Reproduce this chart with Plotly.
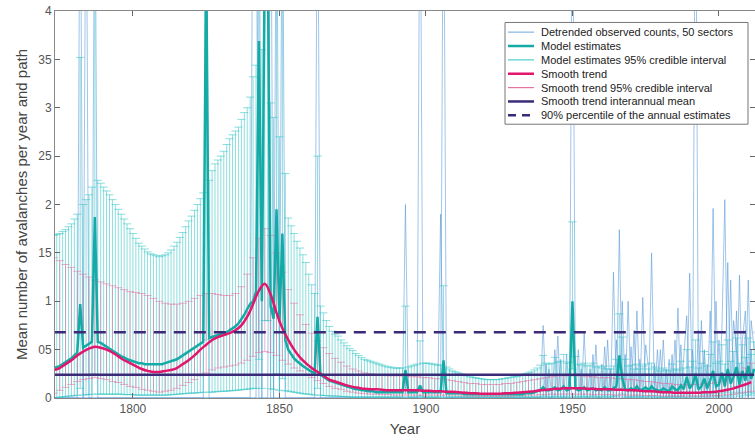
import plotly.graph_objects as go

# ---------------- data ----------------
years = list(range(1773, 2013))

# model estimates (yearly, 1773..2012)
est = [
    0.31, 0.32, 0.33, 0.35, 0.37, 0.39, 0.41,
    0.44, 0.47, 0.97, 0.52, 0.54, 0.56, 0.58, 1.87, 0.58, 0.57,
    0.55, 0.53, 0.51, 0.49, 0.47, 0.45, 0.43, 0.42, 0.40, 0.39,
    0.38, 0.37, 0.36, 0.36, 0.35, 0.35, 0.35, 0.35, 0.35, 0.35,
    0.35, 0.36, 0.37, 0.38, 0.39, 0.40, 0.42, 0.44, 0.46, 0.48,
    0.50, 0.52, 0.54, 0.56, 0.58, 4.60, 0.62, 0.63, 0.64, 0.65,
    0.66, 0.67, 0.68, 0.70, 0.72, 0.74, 0.77, 0.81, 0.86, 0.92,
    0.97, 1.00, 1.10, 3.69, 1.00, 4.60, 4.60, 0.95, 0.82, 1.95,
    0.78, 1.70, 0.60, 0.50, 0.45, 0.41, 0.38, 0.35, 0.33, 0.31,
    0.29, 0.27, 0.26, 0.84, 0.24, 0.22, 0.20, 0.18, 0.17, 0.16,
    0.15, 0.14, 0.13, 0.12, 0.11, 0.10, 0.09, 0.09, 0.08, 0.08,
    0.07, 0.07, 0.07, 0.06, 0.06, 0.06, 0.06, 0.06, 0.06, 0.06,
    0.06, 0.06, 0.06, 0.29, 0.06, 0.06, 0.06, 0.06, 0.13, 0.06,
    0.06, 0.06, 0.06, 0.06, 0.06, 0.06, 0.39, 0.05, 0.05, 0.05,
    0.05, 0.05, 0.05, 0.04, 0.04, 0.04, 0.04, 0.04, 0.04, 0.04,
    0.04, 0.04, 0.04, 0.04, 0.04, 0.04, 0.04, 0.04, 0.04, 0.04,
    0.04, 0.04, 0.04, 0.04, 0.05, 0.05, 0.05, 0.06, 0.07, 0.08,
    0.11, 0.08, 0.08, 0.09, 0.11, 0.08, 0.09, 0.12, 0.08, 0.09,
    1.00, 0.10, 0.08, 0.09, 0.11, 0.08, 0.09, 0.10, 0.08, 0.09,
    0.08, 0.11, 0.08, 0.08, 0.10, 0.12, 0.44, 0.20, 0.09, 0.08,
    0.10, 0.08, 0.12, 0.08, 0.09, 0.11, 0.08, 0.12, 0.09, 0.08,
    0.07, 0.10, 0.08, 0.07, 0.12, 0.09, 0.08, 0.13, 0.09, 0.22,
    0.10, 0.14, 0.25, 0.09, 0.12, 0.20, 0.10, 0.18, 0.28, 0.12,
    0.14, 0.26, 0.12, 0.30, 0.15, 0.22, 0.32, 0.14, 0.28, 0.18,
    0.33, 0.20, 0.30,
]

# model estimates 95% credible interval, upper bound (yearly)
est_hi = [
    1.68, 1.69, 1.70, 1.72, 1.74, 1.77, 1.80,
    1.85, 1.90, 3.52, 2.00, 2.05, 2.10, 2.18, 4.50, 2.25, 2.22,
    2.18, 2.14, 2.10, 2.05, 2.00, 1.95, 1.90, 1.85, 1.80, 1.75,
    1.70, 1.65, 1.60, 1.57, 1.54, 1.51, 1.49, 1.48, 1.47, 1.46,
    1.47, 1.48, 1.50, 1.53, 1.57, 1.61, 1.66, 1.71, 1.77, 1.83,
    1.88, 1.94, 2.00, 2.06, 2.12, 4.60, 2.25, 2.35, 2.42, 2.46,
    2.50, 2.55, 2.62, 2.68, 2.72, 2.76, 2.80, 2.88, 2.95, 3.00,
    3.11, 3.32, 3.44, 4.50, 3.60, 4.60, 4.60, 3.05, 2.90, 4.50,
    2.70, 4.50, 2.32, 1.86, 1.78, 1.70, 1.62, 1.55, 1.48, 1.40,
    1.28, 1.17, 1.08, 2.50, 0.95, 0.88, 0.80, 0.74, 0.69, 0.66,
    0.64, 0.60, 0.57, 0.54, 0.51, 0.49, 0.46, 0.44, 0.42, 0.40,
    0.39, 0.38, 0.37, 0.36, 0.35, 0.34, 0.33, 0.32, 0.32, 0.31,
    0.31, 0.31, 0.31, 0.95, 0.32, 0.33, 0.34, 0.35, 0.59, 0.36,
    0.36, 0.36, 0.35, 0.35, 0.34, 0.34, 1.16, 0.32, 0.30, 0.28,
    0.27, 0.26, 0.25, 0.24, 0.23, 0.22, 0.21, 0.21, 0.20, 0.20,
    0.19, 0.19, 0.19, 0.19, 0.19, 0.19, 0.20, 0.20, 0.21, 0.21,
    0.22, 0.22, 0.23, 0.24, 0.25, 0.26, 0.27, 0.29, 0.31, 0.34,
    0.44, 0.36, 0.35, 0.36, 0.42, 0.37, 0.38, 0.45, 0.36, 0.37,
    1.82, 0.43, 0.35, 0.34, 0.36, 0.33, 0.34, 0.36, 0.32, 0.33,
    0.31, 0.33, 0.30, 0.30, 0.33, 0.40, 0.87, 0.63, 0.40, 0.33,
    0.34, 0.30, 0.35, 0.30, 0.33, 0.35, 0.30, 0.36, 0.32, 0.30,
    0.28, 0.31, 0.29, 0.28, 0.35, 0.30, 0.29, 0.38, 0.31, 0.50,
    0.32, 0.38, 0.60, 0.31, 0.36, 0.48, 0.33, 0.45, 0.58, 0.36,
    0.38, 0.55, 0.35, 0.60, 0.38, 0.48, 0.62, 0.36, 0.55, 0.42,
    0.62, 0.45, 0.58,
]

# model estimates 95% credible interval, lower bound (yearly)
est_lo = [
    0.00, 0.005, 0.01, 0.01, 0.015, 0.02, 0.02,
    0.025, 0.03, 0.10, 0.03, 0.035, 0.035, 0.04, 0.25, 0.04, 0.04,
    0.04, 0.04, 0.04, 0.04, 0.04, 0.04, 0.04, 0.035, 0.035, 0.035,
    0.035, 0.03, 0.03, 0.03, 0.03, 0.03, 0.03, 0.03, 0.03, 0.03,
    0.03, 0.03, 0.03, 0.035, 0.035, 0.04, 0.04, 0.045, 0.045, 0.05,
    0.05, 0.05, 0.055, 0.055, 0.06, 0.60, 0.06, 0.06, 0.065, 0.065,
    0.07, 0.07, 0.07, 0.075, 0.075, 0.08, 0.08, 0.085, 0.09, 0.09,
    0.095, 0.10, 0.10, 0.40, 0.10, 0.80, 0.80, 0.095, 0.09, 0.25,
    0.08, 0.20, 0.075, 0.07, 0.065, 0.06, 0.055, 0.05, 0.045, 0.04,
    0.04, 0.035, 0.03, 0.10, 0.03, 0.025, 0.025, 0.02, 0.02, 0.02,
    0.02, 0.015, 0.015, 0.015, 0.01, 0.01, 0.01, 0.01, 0.01, 0.01,
    0.01, 0.01, 0.01, 0.01, 0.01, 0.01, 0.01, 0.01, 0.01, 0.01,
    0.01, 0.01, 0.01, 0.05, 0.01, 0.01, 0.01, 0.01, 0.02, 0.01,
    0.01, 0.01, 0.01, 0.01, 0.01, 0.01, 0.07, 0.01, 0.01, 0.01,
    0.01, 0.01, 0.01, 0.01, 0.01, 0.01, 0.01, 0.01, 0.01, 0.01,
    0.01, 0.01, 0.01, 0.01, 0.01, 0.01, 0.01, 0.01, 0.01, 0.01,
    0.01, 0.01, 0.01, 0.01, 0.01, 0.01, 0.01, 0.01, 0.01, 0.01,
    0.02, 0.01, 0.01, 0.01, 0.02, 0.01, 0.01, 0.02, 0.01, 0.01,
    0.30, 0.02, 0.01, 0.01, 0.02, 0.01, 0.01, 0.02, 0.01, 0.01,
    0.01, 0.02, 0.01, 0.01, 0.02, 0.02, 0.10, 0.04, 0.01, 0.01,
    0.01, 0.01, 0.02, 0.01, 0.01, 0.02, 0.01, 0.02, 0.01, 0.01,
    0.01, 0.01, 0.01, 0.01, 0.02, 0.01, 0.01, 0.02, 0.01, 0.04,
    0.01, 0.02, 0.05, 0.01, 0.02, 0.04, 0.01, 0.03, 0.05, 0.02,
    0.02, 0.05, 0.02, 0.06, 0.02, 0.04, 0.06, 0.02, 0.05, 0.03,
    0.06, 0.03, 0.05,
]

# smooth trend and its 95% credible interval (every second year, 1773..2011)
smooth_years = list(range(1773, 2012, 2))
smooth = [
    0.29, 0.31, 0.35, 0.39, 0.44, 0.48, 0.51, 0.53, 0.52, 0.50,
    0.47, 0.43, 0.39, 0.36, 0.33, 0.30, 0.28, 0.27, 0.27, 0.28,
    0.29, 0.31, 0.35, 0.39, 0.44, 0.50, 0.55, 0.60, 0.63, 0.65,
    0.67, 0.70, 0.75, 0.84, 0.97, 1.11, 1.18, 1.07, 0.88, 0.72,
    0.60, 0.50, 0.42, 0.36, 0.31, 0.27, 0.23, 0.19, 0.17, 0.15,
    0.13, 0.115, 0.105, 0.095, 0.09, 0.09, 0.085, 0.08, 0.08, 0.08,
    0.08, 0.08, 0.08, 0.075, 0.075, 0.07, 0.07, 0.065, 0.065, 0.06,
    0.055, 0.05, 0.05, 0.045, 0.045, 0.045, 0.045, 0.05, 0.05, 0.055,
    0.06, 0.065, 0.07, 0.08, 0.085, 0.09, 0.095, 0.10, 0.10, 0.10,
    0.10, 0.095, 0.095, 0.09, 0.09, 0.09, 0.085, 0.085, 0.08, 0.08,
    0.075, 0.07, 0.07, 0.065, 0.06, 0.06, 0.055, 0.055, 0.055, 0.055,
    0.055, 0.06, 0.06, 0.065, 0.075, 0.085, 0.10, 0.12, 0.14, 0.165,
]
smooth_hi = [
    1.45, 1.42, 1.38, 1.35, 1.31, 1.28, 1.25, 1.22, 1.20, 1.18,
    1.16, 1.14, 1.12, 1.10, 1.09, 1.08, 1.06, 1.03, 1.00, 0.98,
    0.97, 0.97, 0.98, 1.00, 1.03, 1.06, 1.08, 1.08, 1.07, 1.06,
    1.06, 1.08, 1.15, 1.28, 1.45, 1.65, 1.75, 1.68, 1.50, 1.30,
    1.12, 0.98, 0.86, 0.76, 0.67, 0.59, 0.52, 0.46, 0.41, 0.37,
    0.33, 0.30, 0.28, 0.26, 0.25, 0.24, 0.24, 0.23, 0.23, 0.23,
    0.22, 0.22, 0.22, 0.21, 0.21, 0.20, 0.20, 0.19, 0.18, 0.17,
    0.16, 0.15, 0.15, 0.14, 0.14, 0.14, 0.14, 0.15, 0.15, 0.16,
    0.17, 0.18, 0.19, 0.20, 0.21, 0.22, 0.23, 0.23, 0.23, 0.23,
    0.23, 0.22, 0.22, 0.21, 0.21, 0.21, 0.20, 0.20, 0.19, 0.19,
    0.18, 0.17, 0.17, 0.16, 0.15, 0.15, 0.14, 0.14, 0.14, 0.14,
    0.14, 0.15, 0.15, 0.16, 0.18, 0.20, 0.23, 0.27, 0.31, 0.36,
]
smooth_lo = [
    0.05, 0.08, 0.11, 0.14, 0.17, 0.19, 0.20, 0.21, 0.20, 0.19,
    0.17, 0.16, 0.14, 0.12, 0.11, 0.09, 0.08, 0.07, 0.06, 0.07,
    0.08, 0.10, 0.13, 0.16, 0.19, 0.23, 0.26, 0.29, 0.31, 0.32,
    0.33, 0.34, 0.36, 0.39, 0.43, 0.47, 0.48, 0.47, 0.44, 0.39,
    0.35, 0.31, 0.28, 0.24, 0.21, 0.18, 0.15, 0.12, 0.10, 0.09,
    0.07, 0.06, 0.05, 0.045, 0.04, 0.04, 0.035, 0.035, 0.03, 0.03,
    0.03, 0.03, 0.03, 0.03, 0.03, 0.03, 0.03, 0.03, 0.03, 0.03,
    0.02, 0.02, 0.02, 0.02, 0.02, 0.02, 0.02, 0.02, 0.02, 0.025,
    0.025, 0.03, 0.03, 0.035, 0.035, 0.04, 0.04, 0.04, 0.04, 0.04,
    0.04, 0.04, 0.035, 0.035, 0.035, 0.035, 0.03, 0.03, 0.03, 0.03,
    0.03, 0.025, 0.025, 0.025, 0.02, 0.02, 0.02, 0.02, 0.02, 0.02,
    0.02, 0.02, 0.02, 0.025, 0.03, 0.035, 0.04, 0.05, 0.06, 0.07,
]

interannual_mean = 0.24
percentile_90 = 0.68

# detrended observed counts (50 sectors): years with non-zero counts and values
obs_a_years = [1782, 1784, 1825, 1841, 1842, 1845, 1846, 1849, 1851, 1863,
               1893, 1898, 1906, 1940, 1945, 1950, 1954, 1958, 1961, 1966,
               1969, 1974, 1977, 1986, 1990, 1992, 1998, 2004, 2007, 2010]
obs_a_vals = [6.0, 6.0, 6.0, 6.0, 6.0, 6.0, 6.0, 6.0, 6.0, 6.0,
              2.0, 6.0, 6.0, 0.75, 0.64, 6.0, 0.67, 0.55, 0.53, 1.74,
              1.0, 1.04, 1.5, 0.93, 1.29, 6.0, 1.96, 1.22, 1.27, 1.22]
obs_b_years = [1787, 1843, 1847, 1905, 1942, 1944, 1948, 1952, 1956, 1963,
               1965, 1967, 1970, 1972, 1979, 1981, 1983, 1985, 1988, 1989,
               1991, 1993, 1995, 1997, 1999, 2001, 2002, 2005, 2006, 2008,
               2009, 2011, 2012]
obs_b_vals = [6.0, 6.0, 6.0, 1.9, 0.3, 0.5, 0.45, 0.5, 0.3, 0.3,
              0.6, 1.0, 0.53, 0.9, 0.5, 0.6, 0.4, 0.6, 0.45, 0.85,
              0.5, 0.7, 0.5, 0.9, 1.0, 0.7, 2.05, 0.8, 0.5, 0.6,
              0.9, 0.8, 0.5]
obs_c_years = [1941, 1946, 1949, 1953, 1957, 1960, 1962, 1964, 1968, 1971,
               1973, 1975, 1976, 1978, 1980, 1982, 1984, 1987, 1994, 1996,
               2000, 2003, 2006, 2009, 2011]
obs_c_vals = [0.35, 0.4, 0.25, 0.3, 0.45, 0.35, 0.6, 1.3, 0.45, 0.7,
              0.4, 0.55, 0.3, 0.35, 0.5, 0.3, 0.45, 0.55, 0.8, 0.35,
              0.6, 1.4, 0.9, 0.7, 0.5]

y_tickvals = [0, 0.5, 1, 1.5, 2, 2.5, 3, 3.5, 4]
y_ticktext = ["0", "05", "1", "15", "2", "25", "3", "35", "4"]
x_tickvals = [1800, 1850, 1900, 1950, 2000]

legend_labels = ["Detrended observed counts, 50 sectors", "Model estimates",
                 "Model estimates 95% credible interval", "Smooth trend",
                 "Smooth trend 95% credible interval", "Smooth trend interannual mean",
                 "90% percentile of the annual estimates"]

# ---------------- helpers ----------------
def full_series(sp_years, sp_vals):
    lookup = dict(zip(sp_years, sp_vals))
    return [lookup.get(y, 0.0) for y in years]


def errbar_path(xs, lo, hi, half_width):
    px, py = [], []
    for x, l, h in zip(xs, lo, hi):
        px += [x, x, None, x - half_width, x + half_width, None,
               x - half_width, x + half_width, None]
        py += [l, h, None, h, h, None, l, l, None]
    return px, py


TEAL = "#14aba6"
TEAL_CI = "rgba(45,195,195,0.55)"
MAGENTA = "#e0176c"
PINK_CI = "rgba(225,110,160,0.55)"
PURPLE = "#3a2a78"
OBS = "rgba(80,150,215,0.55)"

fig = go.Figure()

for oy, ov in [(obs_a_years, obs_a_vals), (obs_b_years, obs_b_vals),
               (obs_c_years, obs_c_vals)]:
    fig.add_trace(go.Scatter(x=years, y=full_series(oy, ov), mode="lines",
                             line=dict(color=OBS, width=1), name=legend_labels[0]))

cx, cy = errbar_path(years, est_lo, est_hi, 1.4)
fig.add_trace(go.Scatter(x=cx, y=cy, mode="lines", line=dict(color=TEAL_CI, width=1),
                         name=legend_labels[2]))
sx, sy = errbar_path(smooth_years, smooth_lo, smooth_hi, 1.4)
fig.add_trace(go.Scatter(x=sx, y=sy, mode="lines", line=dict(color=PINK_CI, width=1),
                         name=legend_labels[4]))

fig.add_trace(go.Scatter(x=years, y=est, mode="lines",
                         line=dict(color=TEAL, width=2.5), name=legend_labels[1]))
fig.add_trace(go.Scatter(x=smooth_years, y=smooth, mode="lines",
                         line=dict(color=MAGENTA, width=2.5, shape="spline"),
                         name=legend_labels[3]))
fig.add_trace(go.Scatter(x=[years[0], years[-1]], y=[interannual_mean] * 2, mode="lines",
                         line=dict(color=PURPLE, width=2.5), name=legend_labels[5]))
fig.add_trace(go.Scatter(x=[years[0], years[-1]], y=[percentile_90] * 2, mode="lines",
                         line=dict(color=PURPLE, width=2.5, dash="12px,8px"),
                         name=legend_labels[6]))
fig.update_traces(showlegend=False)

# ---------------- compact legend box (drawn in paper coordinates) ----------------
W, H = 755, 440
PL, PR, PT, PB = 55, 0, 10.5, 41.5
pw, ph = W - PL - PR, H - PT - PB


def px2paper(xp, yp):
    return (xp - PL) / pw, (H - PB - yp) / ph


legend_styles = [
    dict(color="rgba(120,175,225,0.9)", width=1.2),
    dict(color=TEAL, width=2.5),
    dict(color="rgba(60,200,195,0.9)", width=1.2),
    dict(color=MAGENTA, width=2.5),
    dict(color="rgba(230,100,150,0.9)", width=1.2),
    dict(color=PURPLE, width=2.5),
    dict(color=PURPLE, width=2.5, dash="8px,6px"),
]
shapes, annotations = [], []
bx0, by0 = px2paper(505, 22)
bx1, by1 = px2paper(748, 124)
shapes.append(dict(type="rect", xref="paper", yref="paper", x0=bx0, x1=bx1,
                   y0=by1, y1=by0, line=dict(color="#777", width=1),
                   fillcolor="white", layer="above"))
for i, (lab, sty) in enumerate(zip(legend_labels, legend_styles)):
    row_y = 31.7 + i * 13.9
    lx0, ly = px2paper(508, row_y)
    lx1, _ = px2paper(534, row_y)
    tx, _ = px2paper(539, row_y)
    shapes.append(dict(type="line", xref="paper", yref="paper", x0=lx0, x1=lx1,
                       y0=ly, y1=ly, line=sty, layer="above"))
    annotations.append(dict(text=lab, xref="paper", yref="paper", x=tx, y=ly,
                            xanchor="left", yanchor="middle", showarrow=False,
                            font=dict(size=11, color="#222")))

FONT = "Liberation Sans, Arial, sans-serif"
fig.update_layout(
    width=W, height=H,
    margin=dict(l=PL, r=PR, t=PT, b=PB),
    paper_bgcolor="white", plot_bgcolor="white",
    font=dict(family=FONT, color="#444", size=12),
    showlegend=False,
    shapes=shapes, annotations=annotations,
    xaxis=dict(range=[1773.4, 2012.3], tickvals=x_tickvals,
               ticks="inside", ticklen=5, tickcolor="#666",
               showline=True, linecolor="#888", mirror="ticks",
               showgrid=False, zeroline=False,
               title=dict(text="Year", font=dict(size=15, color="#444"), standoff=8),
               tickfont=dict(size=12, color="#555")),
    yaxis=dict(range=[0, 4], tickvals=y_tickvals, ticktext=y_ticktext,
               ticks="inside", ticklen=5, tickcolor="#666",
               showline=True, linecolor="#888", mirror="ticks",
               showgrid=False, zeroline=False,
               title=dict(text="Mean number of avalanches per year and path",
                          font=dict(size=15, color="#444"), standoff=6),
               tickfont=dict(size=12, color="#555")),
)

fig.write_html("out.html",
               config={"displayModeBar": False, "staticPlot": True},
               post_script="document.body.style.margin='0px';"
                           "document.body.style.overflow='hidden';")
